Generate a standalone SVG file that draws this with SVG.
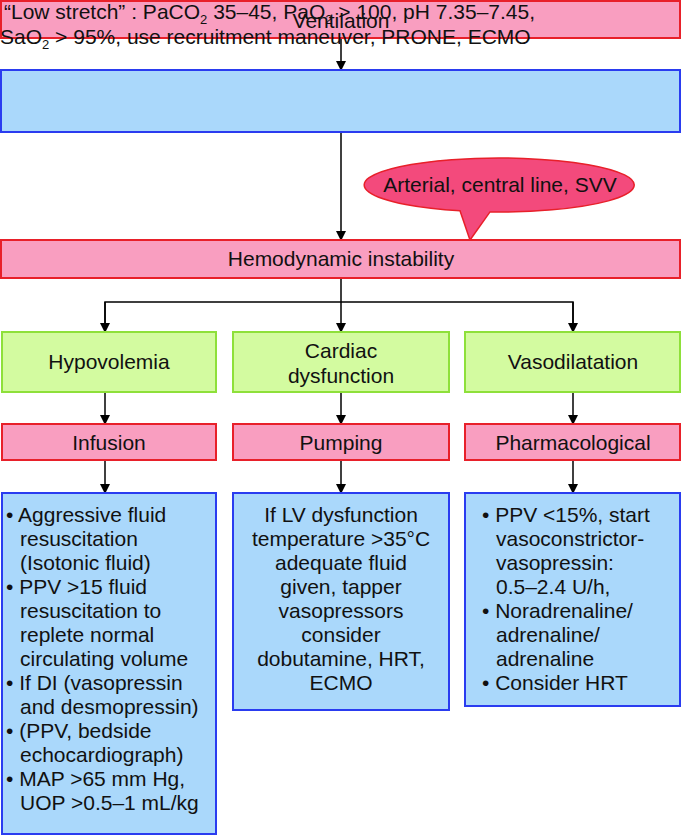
<svg xmlns="http://www.w3.org/2000/svg" width="682" height="835" viewBox="0 0 682 835">
<defs><marker id="a" markerWidth="10" markerHeight="10" refX="8" refY="5" orient="auto" markerUnits="userSpaceOnUse"><path d="M0,0 L10,5 L0,10 Z" fill="#000"/></marker>
<style>text{font-family:"Liberation Sans",Arial,sans-serif;font-size:21px;fill:#111}
.p{fill:#f99ec0;stroke:#e8202a;stroke-width:2}.b{fill:#aad8fb;stroke:#2a3cf0;stroke-width:2}.g{fill:#d3fba0;stroke:#8ee03a;stroke-width:2}
.c{text-anchor:middle}line,polyline{stroke:#000;stroke-width:1.5;fill:none}</style></defs>
<g id="edges">
<line x1="341" y1="38" x2="341" y2="69" marker-end="url(#a)"/>
<line x1="341" y1="132" x2="341" y2="239" marker-end="url(#a)"/>
<line x1="341" y1="278" x2="341" y2="302"/>
<polyline points="105,331 105,302 573,302 573,331"/>
<line x1="105" y1="302" x2="105" y2="331" marker-end="url(#a)"/>
<line x1="341" y1="302" x2="341" y2="331" marker-end="url(#a)"/>
<line x1="573" y1="302" x2="573" y2="331" marker-end="url(#a)"/>
<line x1="105" y1="392" x2="105" y2="423" marker-end="url(#a)"/>
<line x1="341" y1="392" x2="341" y2="423" marker-end="url(#a)"/>
<line x1="573" y1="392" x2="573" y2="423" marker-end="url(#a)"/>
<line x1="105" y1="460" x2="105" y2="492" marker-end="url(#a)"/>
<line x1="341" y1="460" x2="341" y2="492" marker-end="url(#a)"/>
<line x1="573" y1="460" x2="573" y2="492" marker-end="url(#a)"/>
</g>
<g id="ventilation"><rect class="p" x="1" y="1" width="679" height="37"/><text class="c" x="341" y="28">Ventilation</text>
<text x="4" y="19">“Low stretch” : PaCO<tspan font-size="13" dy="5">2</tspan><tspan dy="-5"> 35–45, PaO</tspan><tspan font-size="13" dy="5">2</tspan><tspan dy="-5"> &gt; 100, pH 7.35–7.45,</tspan></text>
<text x="0" y="44">SaO<tspan font-size="13" dy="5">2</tspan><tspan dy="-5"> &gt; 95%, use recruitment maneuver, PRONE, ECMO</tspan></text></g>
<g id="blue"><rect class="b" x="1" y="70" width="679" height="62"/></g>
<g id="callout"><path d="M460,210.8 A135,27 0 1 1 490,211.9 L470,240 Z" fill="#f34a7c" stroke="#e8202a" stroke-width="1.5"/><text class="c" x="500" y="192">Arterial, central line, SVV</text></g>
<g id="hemo"><rect class="p" x="1" y="240" width="679" height="38"/><text class="c" x="341" y="266">Hemodynamic instability</text></g>
<g id="hypo"><rect class="g" x="2" y="332" width="214" height="60"/><text class="c" x="109" y="369">Hypovolemia</text></g>
<g id="cardiac"><rect class="g" x="233" y="332" width="216" height="60"/><text class="c" x="341" y="358">Cardiac</text><text class="c" x="341" y="383">dysfunction</text></g>
<g id="vaso"><rect class="g" x="465" y="332" width="215" height="60"/><text class="c" x="573" y="369">Vasodilatation</text></g>
<g id="infusion"><rect class="p" x="2" y="424" width="214" height="36"/><text class="c" x="109" y="450">Infusion</text></g>
<g id="pumping"><rect class="p" x="233" y="424" width="216" height="36"/><text class="c" x="341" y="450">Pumping</text></g>
<g id="pharm"><rect class="p" x="465" y="424" width="215" height="36"/><text class="c" x="573" y="450">Pharmacological</text></g>
<g id="t1"><rect class="b" x="2" y="493" width="214" height="341"/>
<text x="6" y="522">• Aggressive fluid</text><text x="20" y="546">resuscitation</text><text x="20" y="570">(Isotonic fluid)</text>
<text x="6" y="594">• PPV &gt;15 fluid</text><text x="20" y="618">resuscitation to</text><text x="20" y="642">replete normal</text><text x="20" y="666">circulating volume</text>
<text x="6" y="690">• If DI (vasopressin</text><text x="20" y="714">and desmopressin)</text>
<text x="6" y="738">• (PPV, bedside</text><text x="20" y="762">echocardiograph)</text>
<text x="6" y="786">• MAP &gt;65 mm Hg,</text><text x="20" y="810">UOP &gt;0.5–1 mL/kg</text></g>
<g id="t2"><rect class="b" x="233" y="493" width="216" height="217"/>
<text class="c" x="341" y="522">If LV dysfunction</text><text class="c" x="341" y="546">temperature &gt;35°C</text><text class="c" x="341" y="570">adequate fluid</text><text class="c" x="341" y="594">given, tapper</text><text class="c" x="341" y="618">vasopressors</text><text class="c" x="341" y="642">consider</text><text class="c" x="341" y="666">dobutamine, HRT,</text><text class="c" x="341" y="690">ECMO</text></g>
<g id="t3"><rect class="b" x="465" y="493" width="215" height="213"/>
<text x="482" y="522">• PPV &lt;15%, start</text><text x="496" y="546">vasoconstrictor-</text><text x="496" y="570">vasopressin:</text><text x="496" y="594">0.5–2.4 U/h,</text>
<text x="482" y="618">• Noradrenaline/</text><text x="496" y="642">adrenaline/</text><text x="496" y="666">adrenaline</text><text x="482" y="690">• Consider HRT</text></g>
</svg>
